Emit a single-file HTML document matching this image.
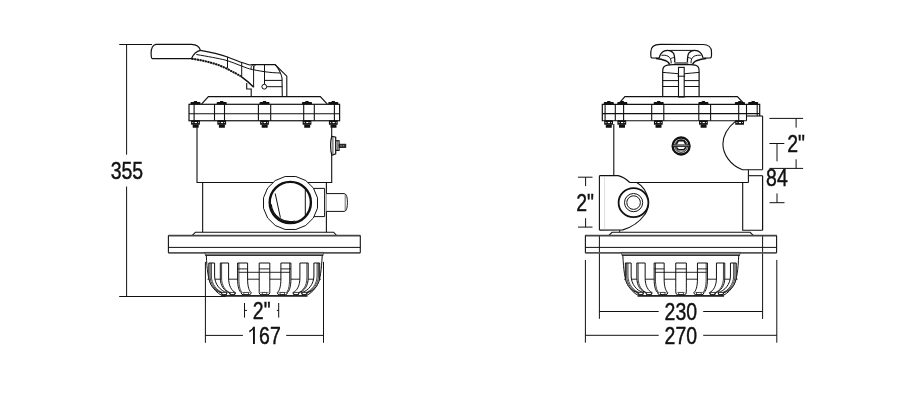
<!DOCTYPE html>
<html><head><meta charset="utf-8"><style>
html,body{margin:0;padding:0;background:#fff;}
body{width:915px;height:404px;overflow:hidden;}
svg{display:block;}
text{font-family:"Liberation Sans",sans-serif;fill:#111;stroke:#111;stroke-width:0.45px;}
svg{will-change:transform;}
</style></head><body>
<svg width="915" height="404" viewBox="0 0 915 404">
<rect width="915" height="404" fill="#fff"/>
<line x1="119.2" y1="44.5" x2="152" y2="44.5" stroke="#111" stroke-width="1.0" />
<line x1="126.6" y1="44.5" x2="126.6" y2="154.7" stroke="#111" stroke-width="1.0" />
<line x1="126.6" y1="186.5" x2="126.6" y2="296.5" stroke="#111" stroke-width="1.0" />
<line x1="119.2" y1="296.5" x2="226" y2="296.5" stroke="#111" stroke-width="1.0" />
<text transform="translate(110.7,178.9) scale(0.795,1)" font-size="24.5">355</text>
<path d="M155.5,44.4 L191.5,44.4 C196,44.6 199.5,46.8 200.4,50.4 C197.5,51 193.5,54 191.5,58.6 L152.3,58.6 C151.5,58.4 151.3,57.5 151.3,56.5 L151.1,53.5 C151.1,49 152,45.2 156,44.4 Z" stroke="#111" stroke-width="1.2" fill="#fff" />
<path d="M200.4,50.4 C210,52 220,54.3 227.5,56.9 C234,59.3 239,61.5 242.8,62.8 C246,64 248.5,64.8 250.1,65 L252,64.6 L275.1,64.5 L286.8,76.2 L286.8,96.8" stroke="#111" stroke-width="1.1" fill="none" />
<path d="M196.3,54.5 C208,56.5 218,58.3 225,60 C232,62 237,64.3 241.7,66.1 C245,67.3 247.5,68.3 249.5,68.9 C254,70 258,70.6 264.5,71.7 C270,72.5 276,72.9 280.3,73" stroke="#111" stroke-width="1.0" fill="none" />
<path d="M191.5,58.7 C205,60.6 218,64 227.2,68.9 C233,72 237,74 240.6,76.1 C245,79.2 250,83.3 253.4,87.1" stroke="#333" stroke-width="0.6" fill="none" />
<path d="M191.5,58.7 C205,60.6 218,64 227.2,68.9 C233,72 237,74 240.6,76.1" stroke="#111" stroke-width="2.0" fill="none" stroke-dasharray="2.0 0.7"/>
<path d="M240.6,76.1 C245,79.2 250,83.3 253.8,87.3" stroke="#111" stroke-width="1.4" fill="none" />
<line x1="227.5" y1="56.9" x2="227.5" y2="68.4" stroke="#111" stroke-width="1.0" />
<line x1="241.7" y1="62.8" x2="241.7" y2="76.2" stroke="#111" stroke-width="1.0" />
<line x1="253.6" y1="65.5" x2="253.6" y2="87" stroke="#111" stroke-width="1.0" />
<path d="M253.2,64.6 C251.2,65.5 250.6,67.5 251.3,69.3" stroke="#111" stroke-width="0.9" fill="none" />
<path d="M256,64.5 C254.2,65.4 253.6,67.3 253.8,69.4" stroke="#111" stroke-width="0.9" fill="none" />
<path d="M246.7,82.9 L246.7,89 L251.2,89 L251.2,96.8" stroke="#111" stroke-width="1.1" fill="none" />
<path d="M275.1,64.5 C278.5,68.5 281,73 282,78 L282.3,96.8" stroke="#111" stroke-width="1.1" fill="none" />
<line x1="264.5" y1="64.5" x2="264.5" y2="84.2" stroke="#111" stroke-width="1.0" />
<circle cx="264.3" cy="86.7" r="2.4" fill="#fff" stroke="#111" stroke-width="1"/>
<line x1="264.5" y1="80.4" x2="282.2" y2="80.4" stroke="#111" stroke-width="1.0" />
<line x1="266.7" y1="86.7" x2="282.2" y2="86.7" stroke="#111" stroke-width="1.0" />
<path d="M201.5,104.2 L208.4,96.7 L320.3,96.7 L327.3,104.2" stroke="#111" stroke-width="1.2" fill="none" />
<rect x="189" y="104.3" width="150.6" height="16.45" fill="none" stroke="#111" stroke-width="1.2"/>
<line x1="189" y1="113.7" x2="339.6" y2="113.7" stroke="#111" stroke-width="1.1" />
<line x1="194.1" y1="104.3" x2="194.1" y2="120.75" stroke="#111" stroke-width="1.1" />
<line x1="214.5" y1="104.3" x2="214.5" y2="120.75" stroke="#111" stroke-width="1.1" />
<line x1="224.5" y1="104.3" x2="224.5" y2="120.75" stroke="#111" stroke-width="1.1" />
<line x1="258.4" y1="104.3" x2="258.4" y2="120.75" stroke="#111" stroke-width="1.1" />
<line x1="270.7" y1="104.3" x2="270.7" y2="120.75" stroke="#111" stroke-width="1.1" />
<line x1="303.7" y1="104.3" x2="303.7" y2="120.75" stroke="#111" stroke-width="1.1" />
<line x1="314.3" y1="104.3" x2="314.3" y2="120.75" stroke="#111" stroke-width="1.1" />
<line x1="334.4" y1="104.3" x2="334.4" y2="120.75" stroke="#111" stroke-width="1.1" />
<path d="M190.50,104.2 L190.50,102.80 Q190.50,102.10000000000001 191.20,102.10000000000001 L193.80,102.10000000000001 L193.80,101.2 Q193.80,100.9 194.20,100.9 L196.80,100.9 Q197.20,100.9 197.20,101.2 L197.20,102.10000000000001 L199.80,102.10000000000001 Q200.50,102.10000000000001 200.50,102.80 L200.50,104.2 Z" fill="#111"/>
<rect x="191.10" y="120.2" width="8.8" height="4.5" rx="0.5" fill="#111"/>
<rect x="192.30" y="122.0" width="1.0" height="1.1" fill="#ddd"/>
<rect x="194.70" y="122.0" width="2.2" height="1.1" fill="#fff"/>
<rect x="198.00" y="122.0" width="0.9" height="1.1" fill="#ccc"/>
<rect x="192.70" y="124.4" width="6.0" height="3.3" rx="0.5" fill="#111"/>
<path d="M216.70,104.2 L216.70,102.80 Q216.70,102.10000000000001 217.40,102.10000000000001 L220.00,102.10000000000001 L220.00,101.2 Q220.00,100.9 220.40,100.9 L223.00,100.9 Q223.40,100.9 223.40,101.2 L223.40,102.10000000000001 L226.00,102.10000000000001 Q226.70,102.10000000000001 226.70,102.80 L226.70,104.2 Z" fill="#111"/>
<rect x="217.30" y="120.2" width="8.8" height="4.5" rx="0.5" fill="#111"/>
<rect x="218.50" y="122.0" width="1.0" height="1.1" fill="#ddd"/>
<rect x="220.90" y="122.0" width="2.2" height="1.1" fill="#fff"/>
<rect x="224.20" y="122.0" width="0.9" height="1.1" fill="#ccc"/>
<rect x="218.90" y="124.4" width="6.0" height="3.3" rx="0.5" fill="#111"/>
<path d="M259.50,104.2 L259.50,102.80 Q259.50,102.10000000000001 260.20,102.10000000000001 L262.80,102.10000000000001 L262.80,101.2 Q262.80,100.9 263.20,100.9 L265.80,100.9 Q266.20,100.9 266.20,101.2 L266.20,102.10000000000001 L268.80,102.10000000000001 Q269.50,102.10000000000001 269.50,102.80 L269.50,104.2 Z" fill="#111"/>
<rect x="260.10" y="120.2" width="8.8" height="4.5" rx="0.5" fill="#111"/>
<rect x="261.30" y="122.0" width="1.0" height="1.1" fill="#ddd"/>
<rect x="263.70" y="122.0" width="2.2" height="1.1" fill="#fff"/>
<rect x="267.00" y="122.0" width="0.9" height="1.1" fill="#ccc"/>
<rect x="261.70" y="124.4" width="6.0" height="3.3" rx="0.5" fill="#111"/>
<path d="M302.00,104.2 L302.00,102.80 Q302.00,102.10000000000001 302.70,102.10000000000001 L305.30,102.10000000000001 L305.30,101.2 Q305.30,100.9 305.70,100.9 L308.30,100.9 Q308.70,100.9 308.70,101.2 L308.70,102.10000000000001 L311.30,102.10000000000001 Q312.00,102.10000000000001 312.00,102.80 L312.00,104.2 Z" fill="#111"/>
<rect x="302.60" y="120.2" width="8.8" height="4.5" rx="0.5" fill="#111"/>
<rect x="303.80" y="122.0" width="1.0" height="1.1" fill="#ddd"/>
<rect x="306.20" y="122.0" width="2.2" height="1.1" fill="#fff"/>
<rect x="309.50" y="122.0" width="0.9" height="1.1" fill="#ccc"/>
<rect x="304.20" y="124.4" width="6.0" height="3.3" rx="0.5" fill="#111"/>
<path d="M328.30,104.2 L328.30,102.80 Q328.30,102.10000000000001 329.00,102.10000000000001 L331.60,102.10000000000001 L331.60,101.2 Q331.60,100.9 332.00,100.9 L334.60,100.9 Q335.00,100.9 335.00,101.2 L335.00,102.10000000000001 L337.60,102.10000000000001 Q338.30,102.10000000000001 338.30,102.80 L338.30,104.2 Z" fill="#111"/>
<rect x="328.90" y="120.2" width="8.8" height="4.5" rx="0.5" fill="#111"/>
<rect x="330.10" y="122.0" width="1.0" height="1.1" fill="#ddd"/>
<rect x="332.50" y="122.0" width="2.2" height="1.1" fill="#fff"/>
<rect x="335.80" y="122.0" width="0.9" height="1.1" fill="#ccc"/>
<rect x="330.50" y="124.4" width="6.0" height="3.3" rx="0.5" fill="#111"/>
<path d="M197.0,127.3 L197.0,182.45 L331.7,182.45 L331.7,127.3" stroke="#111" stroke-width="1.1" fill="none" />
<path d="M331.9,136.4 L335.7,137.2 L335.7,153.8 L331.9,155.3 C330.2,151 330.2,140.5 331.9,136.4 Z" stroke="#111" stroke-width="1.2" fill="#fff" />
<line x1="332.9" y1="137.6" x2="332.9" y2="154.2" stroke="#111" stroke-width="0.8" />
<rect x="335.7" y="140.7" width="3.4" height="9.7" fill="#fff" stroke="#111" stroke-width="1.1"/>
<line x1="337.2" y1="141" x2="337.2" y2="150.1" stroke="#111" stroke-width="0.8" />
<rect x="339.1" y="144.2" width="6.7" height="3.3" fill="#222" stroke="#111" stroke-width="0.8"/>
<line x1="340.2" y1="145.85" x2="345.2" y2="145.85" stroke="#bbb" stroke-width="0.9" stroke-dasharray="1.6 0.9"/>
<line x1="202.65" y1="182.45" x2="202.65" y2="232.2" stroke="#111" stroke-width="1.1" />
<line x1="326.4" y1="182.45" x2="326.4" y2="232.2" stroke="#111" stroke-width="1.1" />
<path d="M311,188.4 L324.6,188.4 L324.6,216.6 L311,216.6" stroke="#111" stroke-width="1.0" fill="none" />
<path d="M326.4,193.6 L344.6,193.6 C346.8,194.5 347.4,198 347.4,202.5 C347.4,207 346.8,210.6 344.6,211.4 L326.4,211.4" stroke="#111" stroke-width="1.0" fill="#fff" />
<line x1="345.2" y1="194" x2="345.2" y2="211" stroke="#111" stroke-width="0.6" />
<polygon points="317.47,208.27 313.37,218.00 305.78,225.45 295.86,229.48 285.14,229.48 275.22,225.45 267.63,218.00 263.53,208.27 263.53,197.73 267.63,188.00 275.22,180.55 285.14,176.52 295.86,176.52 305.78,180.55 313.37,188.00 317.47,197.73" fill="#fff" stroke="#111" stroke-width="1.0" stroke-linejoin="round"/>
<circle cx="290.3" cy="202.5" r="20.6" fill="#fff" stroke="#111" stroke-width="2.4"/>
<line x1="275.2" y1="193.5" x2="280.4" y2="217.6" stroke="#111" stroke-width="1.0" />
<path d="M271.2,204.2 A19.2,19.2 0 0 0 295.3,221.0" stroke="#111" stroke-width="1.2" fill="none" />
<line x1="305.3" y1="190" x2="305.3" y2="215.5" stroke="#111" stroke-width="1.0" />
<path d="M192.1,235.6 L195.4,232.2 L333.6,232.2 L336.7,235.6" stroke="#111" stroke-width="1.1" fill="none" />
<line x1="168.3" y1="235.6" x2="360.3" y2="235.6" stroke="#444" stroke-width="1.6" />
<line x1="168.3" y1="252.8" x2="360.3" y2="252.8" stroke="#555" stroke-width="1.7" />
<line x1="168.4" y1="235.6" x2="168.4" y2="252.8" stroke="#111" stroke-width="1.1" />
<line x1="360.3" y1="235.6" x2="360.3" y2="252.8" stroke="#111" stroke-width="1.1" />
<line x1="168.3" y1="247.4" x2="360.3" y2="247.4" stroke="#111" stroke-width="1.0" />
<path d="M204.8,252.4 L323.7,252.4 L323.0,255.4 L205.5,255.4 Z" fill="#8c8c8c" stroke="#333" stroke-width="0.7"/>
<line x1="205.3" y1="255.4" x2="323.2" y2="255.4" stroke="#222" stroke-width="0.9" />
<path d="M206.3,255.4 C207.0,270 208.2,279 211.0,284.5 C213.5,289 217.0,293 222.0,295.6 L306.5,295.6 C311.5,293 315.0,289 317.5,284.5 C320.3,279 321.5,270 322.2,255.4" stroke="#111" stroke-width="1.0" fill="none" />
<line x1="207.5" y1="279.2" x2="321.0" y2="279.2" stroke="#111" stroke-width="0.9" />
<path d="M208.8,263 L214.6,263 L214.6,276 C214.6,284 220.225,291 227.1,292.6 Q226.9,294.7 225.1,294.7 L223.10000000000002,294.7 Q221.3,294.7 221.10000000000002,292.6 C214.335,291 208.8,284 208.8,276 Z" stroke="#111" stroke-width="1.0" fill="#fff" />
<path d="M210.10000000000002,263 L210.10000000000002,276 C210.10000000000002,284 215.63500000000002,291 222.14000000000001,292.8" stroke="#111" stroke-width="0.8" fill="none" />
<path d="M211.4,263 L211.4,276 C211.4,284 216.935,291 223.18000000000004,292.8" stroke="#111" stroke-width="0.8" fill="none" />
<rect x="221.80" y="292.4" width="4.60" height="2.3" fill="none" stroke="#222" stroke-width="0.8"/>
<line x1="221.70000000000002" y1="292.4" x2="226.5" y2="292.4" stroke="#555" stroke-width="0.6" />
<path d="M220.3,263 L228.6,263 L228.6,278 C228.6,286 231.75,291 235.6,292.6 Q235.4,294.7 233.6,294.7 L231.3,294.7 Q229.5,294.7 229.3,292.6 C224.35000000000002,291 220.3,286 220.3,278 Z" stroke="#111" stroke-width="1.0" fill="#fff" />
<path d="M221.60000000000002,263 L221.60000000000002,278 C221.60000000000002,286 225.65000000000003,291 230.34,292.8" stroke="#111" stroke-width="0.8" fill="none" />
<rect x="230.15" y="292.4" width="4.60" height="2.3" fill="none" stroke="#222" stroke-width="0.8"/>
<line x1="229.9" y1="292.4" x2="235.0" y2="292.4" stroke="#555" stroke-width="0.6" />
<path d="M237.6,263 L247.6,263 L247.6,279 C247.6,287 249.22,291 251.2,292.6 Q251.0,294.7 249.2,294.7 L243.1,294.7 Q241.29999999999998,294.7 241.1,292.6 C239.17499999999998,291 237.6,287 237.6,279 Z" stroke="#111" stroke-width="1.0" fill="#fff" />
<path d="M238.9,263 L238.9,279 C238.9,287 240.475,291 242.14,292.8" stroke="#111" stroke-width="0.8" fill="none" />
<rect x="243.85" y="292.4" width="4.60" height="2.3" fill="none" stroke="#222" stroke-width="0.8"/>
<line x1="241.7" y1="292.4" x2="250.6" y2="292.4" stroke="#555" stroke-width="0.6" />
<path d="M259.2,263 L269.8,263 L269.8,280 C269.8,288 269.8,291 269.8,292.6 Q269.6,294.7 267.8,294.7 L261.2,294.7 Q259.4,294.7 259.2,292.6 C259.2,291 259.2,288 259.2,280 Z" stroke="#111" stroke-width="1.0" fill="#fff" />
<rect x="262.20" y="292.4" width="4.60" height="2.3" fill="none" stroke="#222" stroke-width="0.8"/>
<line x1="259.8" y1="292.4" x2="269.2" y2="292.4" stroke="#555" stroke-width="0.6" />
<path d="M280.9,263 L290.9,263 L290.9,279 C290.9,287 289.325,291 287.4,292.6 Q287.2,294.7 285.4,294.7 L279.29999999999995,294.7 Q277.49999999999994,294.7 277.29999999999995,292.6 C279.28,291 280.9,287 280.9,279 Z" stroke="#111" stroke-width="1.0" fill="#fff" />
<path d="M289.59999999999997,263 L289.59999999999997,279 C289.59999999999997,287 288.025,291 286.35999999999996,292.8" stroke="#111" stroke-width="0.8" fill="none" />
<rect x="280.05" y="292.4" width="4.60" height="2.3" fill="none" stroke="#222" stroke-width="0.8"/>
<line x1="277.9" y1="292.4" x2="286.79999999999995" y2="292.4" stroke="#555" stroke-width="0.6" />
<path d="M299.9,263 L308.2,263 L308.2,278 C308.2,286 304.15,291 299.2,292.6 Q299.0,294.7 297.2,294.7 L294.9,294.7 Q293.09999999999997,294.7 292.9,292.6 C296.75,291 299.9,286 299.9,278 Z" stroke="#111" stroke-width="1.0" fill="#fff" />
<path d="M306.9,263 L306.9,278 C306.9,286 302.84999999999997,291 298.15999999999997,292.8" stroke="#111" stroke-width="0.8" fill="none" />
<rect x="293.75" y="292.4" width="4.60" height="2.3" fill="none" stroke="#222" stroke-width="0.8"/>
<line x1="293.5" y1="292.4" x2="298.59999999999997" y2="292.4" stroke="#555" stroke-width="0.6" />
<path d="M313.9,263 L319.7,263 L319.7,276 C319.7,284 314.16499999999996,291 307.4,292.6 Q307.2,294.7 305.4,294.7 L303.4,294.7 Q301.59999999999997,294.7 301.4,292.6 C308.275,291 313.9,284 313.9,276 Z" stroke="#111" stroke-width="1.0" fill="#fff" />
<path d="M318.4,263 L318.4,276 C318.4,284 312.86499999999995,291 306.35999999999996,292.8" stroke="#111" stroke-width="0.8" fill="none" />
<path d="M317.09999999999997,263 L317.09999999999997,276 C317.09999999999997,284 311.56499999999994,291 305.32,292.8" stroke="#111" stroke-width="0.8" fill="none" />
<rect x="302.10" y="292.4" width="4.60" height="2.3" fill="none" stroke="#222" stroke-width="0.8"/>
<line x1="302.0" y1="292.4" x2="306.79999999999995" y2="292.4" stroke="#555" stroke-width="0.6" />
<line x1="238.5" y1="272.3" x2="290.0" y2="272.3" stroke="#111" stroke-width="0.9" />
<line x1="237.6" y1="268.9" x2="247.6" y2="268.9" stroke="#111" stroke-width="0.9" />
<line x1="259.2" y1="268.9" x2="269.8" y2="268.9" stroke="#111" stroke-width="0.9" />
<line x1="280.9" y1="268.9" x2="290.9" y2="268.9" stroke="#111" stroke-width="0.9" />
<line x1="221.0" y1="296.1" x2="307.5" y2="296.1" stroke="#222" stroke-width="1.1" />
<line x1="205.4" y1="261.9" x2="205.4" y2="342.8" stroke="#111" stroke-width="1.0" />
<line x1="323.5" y1="261.9" x2="323.5" y2="342.8" stroke="#111" stroke-width="1.0" />
<line x1="205.4" y1="335.4" x2="242.9" y2="335.4" stroke="#111" stroke-width="1.0" />
<line x1="286.2" y1="335.4" x2="323.5" y2="335.4" stroke="#111" stroke-width="1.0" />
<text transform="translate(259.1,344.0) scale(0.795,1)" font-size="24.5">67</text>
<path d="M253.0,344.1 L253.0,329.6 C252.3,330.6 250.9,331.7 249.3,332.5 L249.3,330.6 C251.3,329.6 252.5,328.3 253.1,326.7 L254.9,326.7 L254.9,344.1 Z" fill="#111"/>
<line x1="244.5" y1="303" x2="244.5" y2="317.6" stroke="#111" stroke-width="1.0" />
<line x1="244.5" y1="310.4" x2="247" y2="310.4" stroke="#111" stroke-width="1.0" />
<line x1="278.7" y1="303" x2="278.7" y2="317.6" stroke="#111" stroke-width="1.0" />
<line x1="276.8" y1="310.4" x2="278.7" y2="310.4" stroke="#111" stroke-width="1.0" />
<text transform="translate(252.8,318.8) scale(0.795,1)" font-size="24.5">2<tspan stroke="#111" stroke-width="0.5" dx="0.1">&quot;</tspan></text>
<path d="M659.1,58.2 L652,58 C651.2,57.8 650.8,57 650.8,55.5 L650.8,51.9 C650.8,47 654.5,44.5 660.2,44.4 L703,44.5 C708,44.6 711.5,47.4 711.5,51.9 L711.5,55.5 C711.5,57 711.2,57.8 710.3,58 L703.7,58.2" stroke="#111" stroke-width="1.2" fill="none" />
<path d="M659.1,58.2 C659.8,55 661.5,52.2 664.5,50.9 C667.5,49.9 671.5,50.6 673.4,53.1 C674.6,54.8 674.8,57 674.8,62.3" stroke="#111" stroke-width="1.3" fill="none" />
<path d="M661.5,55.4 C663.5,55 666,55.2 668,56.2 C670.3,57.5 671.2,59.5 671.2,63.4" stroke="#111" stroke-width="1.0" fill="none" />
<path d="M670.7,58.5 C672,58 673.3,57.6 674.6,57.4" stroke="#111" stroke-width="0.9" fill="none" />
<path d="M656,58.4 C659,58.6 663,59.5 665.8,60.7 C667.8,61.7 669,63 669.8,64.6" stroke="#111" stroke-width="1.5" fill="none" />
<path d="M703.1,58.2 C702.4,55 700.7,52.2 697.7,50.9 C694.7,49.9 690.7,50.6 688.8,53.1 C687.6,54.8 687.4,57 687.4,62.3" stroke="#111" stroke-width="1.3" fill="none" />
<path d="M700.7,55.4 C698.7,55 696.2,55.2 694.2,56.2 C691.9,57.5 691,59.5 691,63.4" stroke="#111" stroke-width="1.0" fill="none" />
<path d="M691.5,58.5 C690.2,58 688.9,57.6 687.6,57.4" stroke="#111" stroke-width="0.9" fill="none" />
<path d="M706.2,58.4 C703.2,58.6 699.2,59.5 696.4,60.7 C694.4,61.7 693.2,63 692.4,64.6" stroke="#111" stroke-width="1.5" fill="none" />
<line x1="669.5" y1="50.4" x2="693.5" y2="50.4" stroke="#111" stroke-width="1.0" />
<rect x="674.3" y="62" width="14" height="3" fill="#777"/>
<path d="M662.7,97 L662.7,71 C662.7,67.5 664.5,65.6 667.5,65.2 L672.5,64.6 L690.3,64.6 L695.1,65.2 C698,65.6 699.1,67.5 699.1,71 L699.1,97" stroke="#111" stroke-width="1.2" fill="none" />
<path d="M662.7,72.4 C668,72.8 674,73.3 678.5,73.8" stroke="#111" stroke-width="1.0" fill="none" />
<path d="M684.2,73.8 C689,73.3 694,72.8 699.1,72.4" stroke="#111" stroke-width="1.0" fill="none" />
<line x1="662.7" y1="80.6" x2="699.1" y2="80.6" stroke="#111" stroke-width="1.0" />
<line x1="662.7" y1="86.5" x2="699.1" y2="86.5" stroke="#111" stroke-width="1.0" />
<rect x="678.5" y="67.4" width="5.7" height="29.6" fill="#fff" stroke="#111" stroke-width="1.1"/>
<line x1="677.5" y1="76.2" x2="685.2" y2="76.2" stroke="#111" stroke-width="1.0" />
<path d="M618.8,103.6 L624.9,96.65 L737.4,96.65 L744.3,103.8" stroke="#111" stroke-width="1.2" fill="none" />
<path d="M759.7,116 L759.7,104.3 L602.3,104.3 L602.3,120.75 L746.5,120.75" stroke="#111" stroke-width="1.2" fill="none" />
<line x1="602.3" y1="113.65" x2="759.7" y2="113.65" stroke="#111" stroke-width="1.1" />
<line x1="746.5" y1="116" x2="762.6" y2="116" stroke="#111" stroke-width="1.1" />
<line x1="605.1" y1="104.3" x2="605.1" y2="120.75" stroke="#111" stroke-width="1.1" />
<line x1="615.3" y1="104.3" x2="615.3" y2="120.75" stroke="#111" stroke-width="1.1" />
<line x1="623.6" y1="104.3" x2="623.6" y2="120.75" stroke="#111" stroke-width="1.1" />
<line x1="651.7" y1="104.3" x2="651.7" y2="120.75" stroke="#111" stroke-width="1.1" />
<line x1="663.8" y1="104.3" x2="663.8" y2="120.75" stroke="#111" stroke-width="1.1" />
<line x1="698.8" y1="104.3" x2="698.8" y2="120.75" stroke="#111" stroke-width="1.1" />
<line x1="710.6" y1="104.3" x2="710.6" y2="120.75" stroke="#111" stroke-width="1.1" />
<line x1="738.7" y1="104.3" x2="738.7" y2="120.75" stroke="#111" stroke-width="1.1" />
<line x1="746.5" y1="104.3" x2="746.5" y2="120.75" stroke="#111" stroke-width="1.1" />
<line x1="757.2" y1="104.3" x2="757.2" y2="116" stroke="#111" stroke-width="1.1" />
<path d="M603.80,104.2 L603.80,102.80 Q603.80,102.10000000000001 604.50,102.10000000000001 L607.10,102.10000000000001 L607.10,101.2 Q607.10,100.9 607.50,100.9 L610.10,100.9 Q610.50,100.9 610.50,101.2 L610.50,102.10000000000001 L613.10,102.10000000000001 Q613.80,102.10000000000001 613.80,102.80 L613.80,104.2 Z" fill="#111"/>
<path d="M617.30,104.2 L617.30,102.80 Q617.30,102.10000000000001 618.00,102.10000000000001 L620.60,102.10000000000001 L620.60,101.2 Q620.60,100.9 621.00,100.9 L623.60,100.9 Q624.00,100.9 624.00,101.2 L624.00,102.10000000000001 L626.60,102.10000000000001 Q627.30,102.10000000000001 627.30,102.80 L627.30,104.2 Z" fill="#111"/>
<path d="M653.70,104.2 L653.70,102.80 Q653.70,102.10000000000001 654.40,102.10000000000001 L657.00,102.10000000000001 L657.00,101.2 Q657.00,100.9 657.40,100.9 L660.00,100.9 Q660.40,100.9 660.40,101.2 L660.40,102.10000000000001 L663.00,102.10000000000001 Q663.70,102.10000000000001 663.70,102.80 L663.70,104.2 Z" fill="#111"/>
<path d="M698.40,104.2 L698.40,102.80 Q698.40,102.10000000000001 699.10,102.10000000000001 L701.70,102.10000000000001 L701.70,101.2 Q701.70,100.9 702.10,100.9 L704.70,100.9 Q705.10,100.9 705.10,101.2 L705.10,102.10000000000001 L707.70,102.10000000000001 Q708.40,102.10000000000001 708.40,102.80 L708.40,104.2 Z" fill="#111"/>
<path d="M734.90,104.2 L734.90,102.80 Q734.90,102.10000000000001 735.60,102.10000000000001 L738.20,102.10000000000001 L738.20,101.2 Q738.20,100.9 738.60,100.9 L741.20,100.9 Q741.60,100.9 741.60,101.2 L741.60,102.10000000000001 L744.20,102.10000000000001 Q744.90,102.10000000000001 744.90,102.80 L744.90,104.2 Z" fill="#111"/>
<path d="M748.20,104.2 L748.20,102.80 Q748.20,102.10000000000001 748.90,102.10000000000001 L751.50,102.10000000000001 L751.50,101.2 Q751.50,100.9 751.90,100.9 L754.50,100.9 Q754.90,100.9 754.90,101.2 L754.90,102.10000000000001 L757.50,102.10000000000001 Q758.20,102.10000000000001 758.20,102.80 L758.20,104.2 Z" fill="#111"/>
<rect x="604.20" y="120.2" width="8.8" height="4.5" rx="0.5" fill="#111"/>
<rect x="605.40" y="122.0" width="1.0" height="1.1" fill="#ddd"/>
<rect x="607.80" y="122.0" width="2.2" height="1.1" fill="#fff"/>
<rect x="611.10" y="122.0" width="0.9" height="1.1" fill="#ccc"/>
<rect x="605.80" y="124.4" width="6.0" height="3.3" rx="0.5" fill="#111"/>
<rect x="617.40" y="120.2" width="8.8" height="4.5" rx="0.5" fill="#111"/>
<rect x="618.60" y="122.0" width="1.0" height="1.1" fill="#ddd"/>
<rect x="621.00" y="122.0" width="2.2" height="1.1" fill="#fff"/>
<rect x="624.30" y="122.0" width="0.9" height="1.1" fill="#ccc"/>
<rect x="619.00" y="124.4" width="6.0" height="3.3" rx="0.5" fill="#111"/>
<rect x="653.90" y="120.2" width="8.8" height="4.5" rx="0.5" fill="#111"/>
<rect x="655.10" y="122.0" width="1.0" height="1.1" fill="#ddd"/>
<rect x="657.50" y="122.0" width="2.2" height="1.1" fill="#fff"/>
<rect x="660.80" y="122.0" width="0.9" height="1.1" fill="#ccc"/>
<rect x="655.50" y="124.4" width="6.0" height="3.3" rx="0.5" fill="#111"/>
<rect x="699.00" y="120.2" width="8.8" height="4.5" rx="0.5" fill="#111"/>
<rect x="700.20" y="122.0" width="1.0" height="1.1" fill="#ddd"/>
<rect x="702.60" y="122.0" width="2.2" height="1.1" fill="#fff"/>
<rect x="705.90" y="122.0" width="0.9" height="1.1" fill="#ccc"/>
<rect x="700.60" y="124.4" width="6.0" height="3.3" rx="0.5" fill="#111"/>
<rect x="735.20" y="120.2" width="8.8" height="4.5" rx="0.5" fill="#111"/>
<rect x="736.40" y="122.0" width="1.0" height="1.1" fill="#ddd"/>
<rect x="738.80" y="122.0" width="2.2" height="1.1" fill="#fff"/>
<rect x="742.10" y="122.0" width="0.9" height="1.1" fill="#ccc"/>
<line x1="613.8" y1="124" x2="613.8" y2="175.7" stroke="#111" stroke-width="1.1" />
<line x1="762.6" y1="116" x2="762.6" y2="169.8" stroke="#111" stroke-width="1.1" />
<path d="M735.6,121.2 C728,127.5 723,135 722.9,144 C723,154 730,165 742.5,169.8 L762.6,169.8" stroke="#111" stroke-width="1.1" fill="none" />
<line x1="748.4" y1="169.8" x2="748.4" y2="182.4" stroke="#111" stroke-width="1.1" />
<line x1="629.8" y1="182.5" x2="748.4" y2="182.5" stroke="#111" stroke-width="1.1" />
<circle cx="681.1" cy="146" r="8.5" fill="#fff" stroke="#111" stroke-width="2.3"/>
<circle cx="681.1" cy="146" r="6.3" fill="none" stroke="#111" stroke-width="1.0"/>
<path d="M676.3,144.3 L678.3,140.8 L683.9,140.8 L685.9,144.3" stroke="#111" stroke-width="1.5" fill="none" />
<path d="M676.3,147.3 L678.3,149.7 L683.9,149.7 L685.9,147.3" stroke="#111" stroke-width="1.5" fill="none" />
<rect x="672.7" y="144.9" width="16.8" height="1.7" fill="#999" stroke="#111" stroke-width="0.8"/>
<path d="M742.7,182.4 L742.7,230.3 L762.6,230.3" stroke="#111" stroke-width="1.1" fill="none" />
<line x1="749" y1="175.7" x2="762.6" y2="175.7" stroke="#111" stroke-width="1.1" />
<line x1="762.6" y1="175.7" x2="762.6" y2="230.3" stroke="#111" stroke-width="1.2" />
<line x1="762.6" y1="235.6" x2="762.6" y2="319" stroke="#111" stroke-width="1.0" />
<path d="M599.4,175.7 L618.2,175.7 C622,176.6 626.3,179.2 629.8,182.5" stroke="#111" stroke-width="1.3" fill="none" />
<path d="M636.8,182.5 C642,185.5 646.5,191 648,199 C648.8,205 647.5,211 644.6,214.8 C640.5,220.5 633,227 622.8,229.9 L599.4,230.1" stroke="#111" stroke-width="1.1" fill="none" />
<line x1="599.4" y1="175.7" x2="599.4" y2="230.1" stroke="#111" stroke-width="1.1" />
<line x1="604.6" y1="177" x2="604.6" y2="229.5" stroke="#c8c8c8" stroke-width="0.6" />
<line x1="599.4" y1="235.6" x2="599.4" y2="318.8" stroke="#111" stroke-width="1.0" />
<line x1="619.7" y1="230.1" x2="619.7" y2="232.4" stroke="#111" stroke-width="1.0" />
<ellipse cx="633.5" cy="202.7" rx="14.9" ry="14.5" fill="#fff" stroke="#111" stroke-width="1.8"/>
<circle cx="633.6" cy="202.6" r="9.1" fill="none" stroke="#111" stroke-width="1.0"/>
<circle cx="633.6" cy="202.6" r="6.8" fill="none" stroke="#111" stroke-width="1.0"/>
<path d="M608.6,235.6 L612.1,232.3 L750.1,232.3 L753.5,235.6" stroke="#111" stroke-width="1.1" fill="none" />
<line x1="585.2" y1="235.6" x2="776.7" y2="235.6" stroke="#444" stroke-width="1.6" />
<line x1="585.2" y1="252.8" x2="776.7" y2="252.8" stroke="#555" stroke-width="1.7" />
<line x1="585.4" y1="235.6" x2="585.4" y2="252.8" stroke="#111" stroke-width="1.1" />
<line x1="776.6" y1="235.6" x2="776.6" y2="252.8" stroke="#111" stroke-width="1.1" />
<line x1="585.2" y1="247.4" x2="776.7" y2="247.4" stroke="#111" stroke-width="1.0" />
<path d="M621.35,252.4 L740.25,252.4 L739.55,255.4 L622.05,255.4 Z" fill="#8c8c8c" stroke="#333" stroke-width="0.7"/>
<line x1="621.85" y1="255.4" x2="739.75" y2="255.4" stroke="#222" stroke-width="0.9" />
<path d="M622.85,255.4 C623.55,270 624.75,279 627.55,284.5 C630.05,289 633.55,293 638.55,295.6 L723.05,295.6 C728.05,293 731.55,289 734.05,284.5 C736.85,279 738.05,270 738.75,255.4" stroke="#111" stroke-width="1.0" fill="none" />
<line x1="624.05" y1="279.2" x2="737.55" y2="279.2" stroke="#111" stroke-width="0.9" />
<path d="M625.35,263 L631.15,263 L631.15,276 C631.15,284 636.775,291 643.65,292.6 Q643.4499999999999,294.7 641.65,294.7 L639.65,294.7 Q637.85,294.7 637.65,292.6 C630.885,291 625.35,284 625.35,276 Z" stroke="#111" stroke-width="1.0" fill="#fff" />
<path d="M626.65,263 L626.65,276 C626.65,284 632.185,291 638.6899999999999,292.8" stroke="#111" stroke-width="0.8" fill="none" />
<path d="M627.95,263 L627.95,276 C627.95,284 633.485,291 639.73,292.8" stroke="#111" stroke-width="0.8" fill="none" />
<rect x="638.35" y="292.4" width="4.60" height="2.3" fill="none" stroke="#222" stroke-width="0.8"/>
<line x1="638.25" y1="292.4" x2="643.05" y2="292.4" stroke="#555" stroke-width="0.6" />
<path d="M636.85,263 L645.15,263 L645.15,278 C645.15,286 648.3,291 652.15,292.6 Q651.9499999999999,294.7 650.15,294.7 L647.85,294.7 Q646.0500000000001,294.7 645.85,292.6 C640.9,291 636.85,286 636.85,278 Z" stroke="#111" stroke-width="1.0" fill="#fff" />
<path d="M638.15,263 L638.15,278 C638.15,286 642.1999999999999,291 646.89,292.8" stroke="#111" stroke-width="0.8" fill="none" />
<rect x="646.70" y="292.4" width="4.60" height="2.3" fill="none" stroke="#222" stroke-width="0.8"/>
<line x1="646.45" y1="292.4" x2="651.55" y2="292.4" stroke="#555" stroke-width="0.6" />
<path d="M654.15,263 L664.15,263 L664.15,279 C664.15,287 665.77,291 667.75,292.6 Q667.55,294.7 665.75,294.7 L659.65,294.7 Q657.85,294.7 657.65,292.6 C655.725,291 654.15,287 654.15,279 Z" stroke="#111" stroke-width="1.0" fill="#fff" />
<path d="M655.4499999999999,263 L655.4499999999999,279 C655.4499999999999,287 657.025,291 658.6899999999999,292.8" stroke="#111" stroke-width="0.8" fill="none" />
<rect x="660.40" y="292.4" width="4.60" height="2.3" fill="none" stroke="#222" stroke-width="0.8"/>
<line x1="658.25" y1="292.4" x2="667.15" y2="292.4" stroke="#555" stroke-width="0.6" />
<path d="M675.75,263 L686.35,263 L686.35,280 C686.35,288 686.35,291 686.35,292.6 Q686.15,294.7 684.35,294.7 L677.75,294.7 Q675.95,294.7 675.75,292.6 C675.75,291 675.75,288 675.75,280 Z" stroke="#111" stroke-width="1.0" fill="#fff" />
<rect x="678.75" y="292.4" width="4.60" height="2.3" fill="none" stroke="#222" stroke-width="0.8"/>
<line x1="676.35" y1="292.4" x2="685.75" y2="292.4" stroke="#555" stroke-width="0.6" />
<path d="M697.45,263 L707.45,263 L707.45,279 C707.45,287 705.875,291 703.95,292.6 Q703.75,294.7 701.95,294.7 L695.85,294.7 Q694.0500000000001,294.7 693.85,292.6 C695.83,291 697.45,287 697.45,279 Z" stroke="#111" stroke-width="1.0" fill="#fff" />
<path d="M706.1500000000001,263 L706.1500000000001,279 C706.1500000000001,287 704.575,291 702.9100000000001,292.8" stroke="#111" stroke-width="0.8" fill="none" />
<rect x="696.60" y="292.4" width="4.60" height="2.3" fill="none" stroke="#222" stroke-width="0.8"/>
<line x1="694.45" y1="292.4" x2="703.35" y2="292.4" stroke="#555" stroke-width="0.6" />
<path d="M716.45,263 L724.75,263 L724.75,278 C724.75,286 720.7,291 715.75,292.6 Q715.55,294.7 713.75,294.7 L711.45,294.7 Q709.6500000000001,294.7 709.45,292.6 C713.3000000000001,291 716.45,286 716.45,278 Z" stroke="#111" stroke-width="1.0" fill="#fff" />
<path d="M723.45,263 L723.45,278 C723.45,286 719.4000000000001,291 714.71,292.8" stroke="#111" stroke-width="0.8" fill="none" />
<rect x="710.30" y="292.4" width="4.60" height="2.3" fill="none" stroke="#222" stroke-width="0.8"/>
<line x1="710.0500000000001" y1="292.4" x2="715.15" y2="292.4" stroke="#555" stroke-width="0.6" />
<path d="M730.45,263 L736.25,263 L736.25,276 C736.25,284 730.715,291 723.95,292.6 Q723.75,294.7 721.95,294.7 L719.95,294.7 Q718.1500000000001,294.7 717.95,292.6 C724.825,291 730.45,284 730.45,276 Z" stroke="#111" stroke-width="1.0" fill="#fff" />
<path d="M734.95,263 L734.95,276 C734.95,284 729.4150000000001,291 722.9100000000001,292.8" stroke="#111" stroke-width="0.8" fill="none" />
<path d="M733.65,263 L733.65,276 C733.65,284 728.115,291 721.87,292.8" stroke="#111" stroke-width="0.8" fill="none" />
<rect x="718.65" y="292.4" width="4.60" height="2.3" fill="none" stroke="#222" stroke-width="0.8"/>
<line x1="718.5500000000001" y1="292.4" x2="723.35" y2="292.4" stroke="#555" stroke-width="0.6" />
<line x1="655.05" y1="272.3" x2="706.55" y2="272.3" stroke="#111" stroke-width="0.9" />
<line x1="654.15" y1="268.9" x2="664.15" y2="268.9" stroke="#111" stroke-width="0.9" />
<line x1="675.75" y1="268.9" x2="686.35" y2="268.9" stroke="#111" stroke-width="0.9" />
<line x1="697.45" y1="268.9" x2="707.45" y2="268.9" stroke="#111" stroke-width="0.9" />
<line x1="637.55" y1="296.1" x2="724.05" y2="296.1" stroke="#222" stroke-width="1.1" />
<line x1="585.4" y1="259.9" x2="585.4" y2="342.7" stroke="#111" stroke-width="1.0" />
<line x1="776.8" y1="259.9" x2="776.8" y2="342.7" stroke="#111" stroke-width="1.0" />
<line x1="599.4" y1="311.5" x2="658.7" y2="311.5" stroke="#111" stroke-width="1.0" />
<line x1="703.2" y1="311.5" x2="762.6" y2="311.5" stroke="#111" stroke-width="1.0" />
<line x1="585.4" y1="335.3" x2="658.7" y2="335.3" stroke="#111" stroke-width="1.0" />
<line x1="703.2" y1="335.3" x2="776.8" y2="335.3" stroke="#111" stroke-width="1.0" />
<text transform="translate(664.6,320.0) scale(0.795,1)" font-size="24.5">230</text>
<text transform="translate(664.6,343.8) scale(0.795,1)" font-size="24.5">270</text>
<line x1="578" y1="177.2" x2="592.5" y2="177.2" stroke="#111" stroke-width="1.0" />
<line x1="585.6" y1="177.2" x2="585.6" y2="186.1" stroke="#111" stroke-width="1.0" />
<line x1="578" y1="227.1" x2="592.5" y2="227.1" stroke="#111" stroke-width="1.0" />
<line x1="585.6" y1="218.2" x2="585.6" y2="227.1" stroke="#111" stroke-width="1.0" />
<text transform="translate(576.2,211) scale(0.795,1)" font-size="24.5">2<tspan stroke="#111" stroke-width="0.5" dx="0.1">&quot;</tspan></text>
<line x1="769.4" y1="118.4" x2="803.1" y2="118.4" stroke="#111" stroke-width="1.0" />
<line x1="796.1" y1="118.4" x2="796.1" y2="127.6" stroke="#111" stroke-width="1.0" />
<line x1="769.4" y1="168.4" x2="803.1" y2="168.4" stroke="#111" stroke-width="1.0" />
<line x1="796.1" y1="159.3" x2="796.1" y2="168.4" stroke="#111" stroke-width="1.0" />
<text transform="translate(787.2,151.9) scale(0.795,1)" font-size="24.5">2<tspan stroke="#111" stroke-width="0.5" dx="0.1">&quot;</tspan></text>
<line x1="769.4" y1="143.5" x2="784.3" y2="143.5" stroke="#111" stroke-width="1.0" />
<line x1="777" y1="143.5" x2="777" y2="161.3" stroke="#111" stroke-width="1.0" />
<line x1="769.5" y1="202.7" x2="784.5" y2="202.7" stroke="#111" stroke-width="1.0" />
<line x1="777" y1="193.4" x2="777" y2="202.7" stroke="#111" stroke-width="1.0" />
<text transform="translate(766.1,185.6) scale(0.795,1)" font-size="24.5">84</text>
</svg>
</body></html>
